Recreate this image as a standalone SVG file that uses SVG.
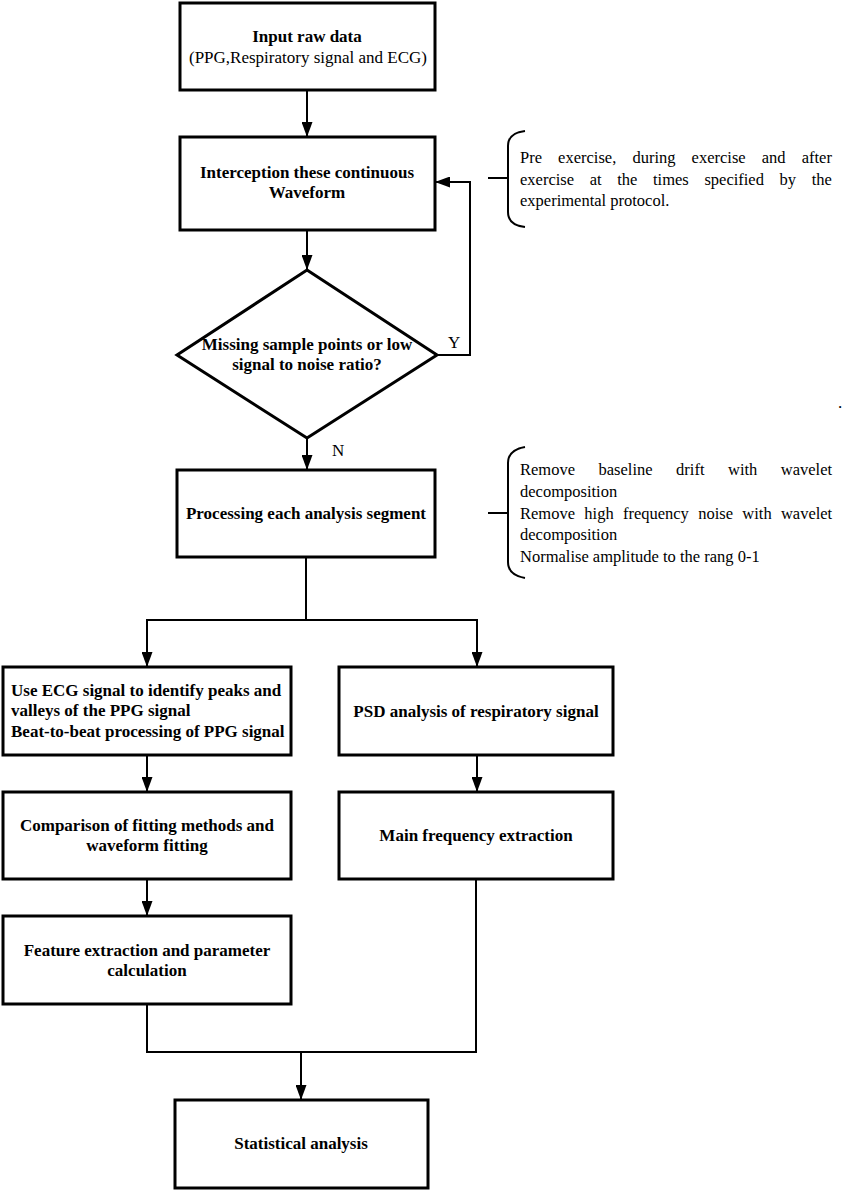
<svg xmlns="http://www.w3.org/2000/svg" width="844" height="1191" viewBox="0 0 844 1191">
<style>
.box{fill:#fff;stroke:#000;stroke-width:3}
.con{fill:none;stroke:#000;stroke-width:2}
.b{font-family:"Liberation Serif","Times New Roman",serif;font-weight:bold;font-size:17px;fill:#000}
.r{font-family:"Liberation Serif","Times New Roman",serif;font-size:17px;fill:#000}
.n{font-family:"Liberation Serif","Times New Roman",serif;font-size:16.5px;fill:#000}
.m{text-anchor:middle}
</style>
<defs>
<marker id="ah" viewBox="0 0 15 11" refX="15" refY="5.5" markerWidth="15" markerHeight="11" markerUnits="userSpaceOnUse" orient="auto">
<path d="M0,0 L15,5.5 L0,11 z" fill="#000"/>
</marker>
</defs>
<rect width="844" height="1191" fill="#fff"/>
<g id="connectors">
<line class="con" x1="307" y1="90" x2="307" y2="137" marker-end="url(#ah)"/>
<line class="con" x1="307" y1="230" x2="307" y2="270" marker-end="url(#ah)"/>
<polyline class="con" points="437,355 470,355 470,182 435,182" marker-end="url(#ah)"/>
<line class="con" x1="307" y1="438" x2="307" y2="470" marker-end="url(#ah)"/>
<line class="con" x1="306" y1="557" x2="306" y2="620"/>
<polyline class="con" points="147,667 147,620 477,620 477,667"/>
<line class="con" x1="147" y1="640" x2="147" y2="667" marker-end="url(#ah)"/>
<line class="con" x1="477" y1="640" x2="477" y2="667" marker-end="url(#ah)"/>
<line class="con" x1="147" y1="755" x2="147" y2="792" marker-end="url(#ah)"/>
<line class="con" x1="477" y1="755" x2="477" y2="792" marker-end="url(#ah)"/>
<line class="con" x1="147" y1="879" x2="147" y2="916" marker-end="url(#ah)"/>
<polyline class="con" points="147,1004 147,1052 476,1052 476,879"/>
<line class="con" x1="301" y1="1052" x2="301" y2="1100" marker-end="url(#ah)"/>
<text class="r" x="448" y="348">Y</text>
<text class="r" x="332" y="456">N</text>
</g>
<g id="input">
<rect class="box" x="180" y="3" width="255" height="87"/>
<text class="b m" x="307" y="42">Input raw data</text>
<text class="r m" x="308" y="63">(PPG,Respiratory signal and ECG)</text>
</g>
<g id="interception">
<rect class="box" x="180" y="137" width="255" height="93"/>
<text class="b m" x="307" y="178">Interception these continuous</text>
<text class="b m" x="307" y="198">Waveform</text>
</g>
<g id="decision">
<polygon class="box" points="307,270 437,355 307,438 177,355"/>
<text class="b m" x="307" y="350">Missing sample points or low</text>
<text class="b m" x="307" y="370">signal to noise ratio?</text>
</g>
<g id="note1">
<path class="con" d="M525,131 Q508,133 508,146 L508,212 Q508,225 525,227"/>
<line class="con" x1="488" y1="178" x2="508" y2="178"/>
<text class="n" y="163"><tspan x="520">Pre</tspan><tspan x="558.1">exercise,</tspan><tspan x="632.4">during</tspan><tspan x="691.6">exercise</tspan><tspan x="761.8">and</tspan><tspan x="801.7">after</tspan></text>
<text class="n" y="185"><tspan x="520">exercise</tspan><tspan x="589.7">at</tspan><tspan x="617.2">the</tspan><tspan x="653">times</tspan><tspan x="704.4">specified</tspan><tspan x="779.6">by</tspan><tspan x="811.7">the</tspan></text>
<text class="n" x="520" y="206">experimental protocol.</text>
</g>
<g id="processing">
<rect class="box" x="177" y="470" width="258" height="87"/>
<text class="b m" x="306" y="519">Processing each analysis segment</text>
</g>
<g id="note2">
<path class="con" d="M525,447 Q508,450 508,463 L508,562 Q508,575 525,578"/>
<line class="con" x1="488" y1="513" x2="508" y2="513"/>
<text class="n" y="475"><tspan x="520">Remove</tspan><tspan x="598.5">baseline</tspan><tspan x="676.1">drift</tspan><tspan x="728">with</tspan><tspan x="780.8">wavelet</tspan></text>
<text class="n" x="520" y="497">decomposition</text>
<text class="n" y="519"><tspan x="520">Remove</tspan><tspan x="584.3">high</tspan><tspan x="622.9">frequency</tspan><tspan x="698.2">noise</tspan><tspan x="742.3">with</tspan><tspan x="780.9">wavelet</tspan></text>
<text class="n" x="520" y="540">decomposition</text>
<text class="n" x="520" y="562">Normalise amplitude to the rang 0-1</text>
</g>
<g id="ecg">
<rect class="box" x="3" y="667" width="288" height="88"/>
<text class="b" x="11" y="696">Use ECG signal to identify peaks and</text>
<text class="b" x="11" y="716">valleys of the PPG signal</text>
<text class="b" x="11" y="737">Beat-to-beat processing of PPG signal</text>
</g>
<g id="psd">
<rect class="box" x="339" y="667" width="274" height="88"/>
<text class="b m" x="476" y="717">PSD analysis of respiratory signal</text>
</g>
<g id="comparison">
<rect class="box" x="3" y="792" width="288" height="87"/>
<text class="b m" x="147" y="831">Comparison of fitting methods and</text>
<text class="b m" x="147" y="851">waveform fitting</text>
</g>
<g id="mainfreq">
<rect class="box" x="339" y="792" width="274" height="87"/>
<text class="b m" x="476" y="841">Main frequency extraction</text>
</g>
<g id="feature">
<rect class="box" x="3" y="916" width="288" height="88"/>
<text class="b m" x="147" y="956">Feature extraction and parameter</text>
<text class="b m" x="147" y="976">calculation</text>
</g>
<g id="statistical">
<rect class="box" x="175" y="1100" width="253" height="88"/>
<text class="b m" x="301" y="1149">Statistical analysis</text>
</g>
<text class="r" x="838" y="408">.</text>
</svg>
